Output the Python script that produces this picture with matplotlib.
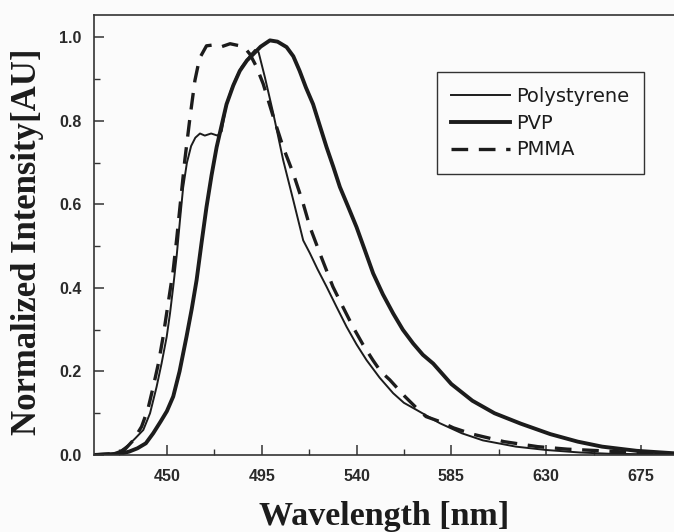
import matplotlib
matplotlib.use("Agg")
import matplotlib.pyplot as plt
from matplotlib.ticker import MultipleLocator, FixedLocator

# ---- data ----
ps_wl = [415, 424, 428, 432, 435, 438.8, 442, 445.1, 447.5, 449.9, 451.5, 453, 454.7, 456.2, 457.7,
         459.5, 461.5, 463.5, 465.7, 468, 471, 474, 476, 478.3, 480.5, 483, 485.5, 487.8, 490, 491.8,
         493.5, 496.5, 500.5, 505.2, 510, 514.7, 517.9, 521.5, 525.8, 530.5, 535.3, 540, 544.8, 551,
         557.4, 562.5, 568.5, 579.6, 590, 600, 615.7, 630, 646, 660, 675, 691]
ps_int = [0, 0.003, 0.01, 0.025, 0.04, 0.06, 0.1, 0.163, 0.22, 0.283, 0.34, 0.403, 0.48, 0.562, 0.64,
          0.70, 0.74, 0.76, 0.77, 0.765, 0.77, 0.765, 0.775, 0.84, 0.875, 0.905, 0.93, 0.945, 0.96, 0.97,
          0.965, 0.905, 0.818, 0.706, 0.61, 0.514, 0.483, 0.445, 0.403, 0.355, 0.307, 0.265, 0.227, 0.185,
          0.148, 0.125, 0.108, 0.076, 0.052, 0.035, 0.02, 0.012, 0.006, 0.003, 0.002, 0.0]

pvp_wl = [415, 428, 432, 436, 440, 443.5, 447, 450, 453, 456, 459.3, 461.8, 464.1, 466.5, 468.8,
          471.2, 473.6, 476, 478.3, 481.5, 484.6, 488, 491, 494.5, 498.9, 502.5, 506.8, 510, 513,
          516, 519.4, 522.5, 525.8, 529, 532.1, 536, 540, 544, 547.9, 552.5, 557.4, 562, 566.9, 571.5,
          576.4, 585, 595, 605.5, 618, 632, 645, 656.6, 673, 691]
pvp_int = [0, 0.003, 0.008, 0.016, 0.028, 0.052, 0.08, 0.105, 0.14, 0.2, 0.283, 0.35, 0.419, 0.51,
           0.594, 0.67, 0.737, 0.79, 0.84, 0.885, 0.92, 0.945, 0.96, 0.978, 0.993, 0.99, 0.977, 0.955,
           0.92, 0.88, 0.84, 0.79, 0.737, 0.69, 0.642, 0.595, 0.546, 0.49, 0.435, 0.385, 0.339, 0.3, 0.267,
           0.24, 0.219, 0.17, 0.13, 0.1, 0.075, 0.05, 0.032, 0.02, 0.01, 0.004]

pmma_wl = [415, 426, 430, 434, 438, 441, 443.5, 446, 448.2, 450.5, 453, 454.7, 456.2, 458.5, 461,
           463.3, 465.5, 468.8, 472, 476, 480, 484.6, 487, 489.4, 492.5, 495.7, 500.5, 505.2, 510,
           514.7, 517.9, 522.6, 528.8, 533.5, 538.3, 543, 547.8, 551.5, 555.8, 563, 568, 573, 579.6,
           586, 595, 610, 626, 640, 656.6, 675, 691]
pmma_int = [0, 0.004, 0.013, 0.035, 0.068, 0.11, 0.163, 0.22, 0.283, 0.36, 0.443, 0.52, 0.594, 0.706,
            0.81, 0.897, 0.95, 0.98, 0.982, 0.978, 0.985, 0.98, 0.975, 0.96, 0.93, 0.889, 0.81, 0.737,
            0.674, 0.602, 0.546, 0.483, 0.403, 0.355, 0.307, 0.265, 0.227, 0.2, 0.18, 0.14, 0.115, 0.092,
            0.08, 0.065, 0.05, 0.032, 0.02, 0.014, 0.01, 0.005, 0.002]

labels = ["Polystyrene", "PVP", "PMMA"]
x_ticks = [450, 495, 540, 585, 630, 675]
y_ticks = [0.0, 0.2, 0.4, 0.6, 0.8, 1.0]

# ---- figure ----
ink = "#1c1c1c"
bg = "#fbfbfb"
fig = plt.figure(figsize=(6.74, 5.32), dpi=100, facecolor=bg)
ax = fig.add_axes([94 / 674, 1 - 455 / 532, 1 - 94 / 674, (455 - 14.5) / 532])
ax.set_facecolor(bg)

ax.plot(ps_wl, ps_int, color=ink, lw=1.4, label=labels[0])
ax.plot(pvp_wl, pvp_int, color=ink, lw=2.8, label=labels[1])
ax.plot(pmma_wl, pmma_int, color=ink, lw=2.4, dashes=(5, 3.2), label=labels[2])

ax.set_xlim(415.4, 690.7)
ax.set_ylim(0, 1.055)

ax.spines["right"].set_visible(False)
for s in ["left", "bottom", "top"]:
    ax.spines[s].set_color("#333333")
    ax.spines[s].set_linewidth(1.2)

ax.xaxis.set_major_locator(FixedLocator(x_ticks))
ax.xaxis.set_minor_locator(FixedLocator([t + 22.5 for t in [405] + x_ticks]))
ax.yaxis.set_major_locator(FixedLocator(y_ticks))
ax.yaxis.set_minor_locator(MultipleLocator(0.1))
ax.tick_params(which="both", direction="in", top=False, right=False, colors="#333333")
ax.tick_params(which="major", length=7, width=1.1, labelsize=11.5, pad=10)
ax.tick_params(which="minor", length=4, width=1.0)
ax.set_xticklabels([str(t) for t in x_ticks], fontfamily="Liberation Sans",
                   fontweight="bold", color="#2a2a2a")
ax.set_yticklabels([f"{t:.1f}" for t in y_ticks], fontfamily="Liberation Sans",
                   fontweight="bold", color="#2a2a2a")
ax.tick_params(axis="y", pad=9)

ax.set_xlabel("Wavelength [nm]", fontfamily="Liberation Serif", fontweight="bold",
              fontsize=24.5, color=ink, labelpad=12)
ax.set_ylabel("Normalized Intensity[AU]", fontfamily="Liberation Serif", fontweight="bold",
              fontsize=25, color=ink)
ax.yaxis.set_label_coords(-0.087, 0.483)

leg = ax.legend(loc="upper left", bbox_to_anchor=(0.591, 0.869), borderaxespad=0,
                frameon=True, fancybox=False, framealpha=1, edgecolor="#333333",
                handlelength=3.0, handletextpad=0.35, labelspacing=0.4, borderpad=0.75,
                prop={"family": "DejaVu Sans", "size": 14})
leg.get_frame().set_linewidth(1.0)
leg.get_frame().set_facecolor(bg)
for t in leg.get_texts():
    t.set_color(ink)

fig.savefig("out.png", dpi=100, facecolor=fig.get_facecolor())
